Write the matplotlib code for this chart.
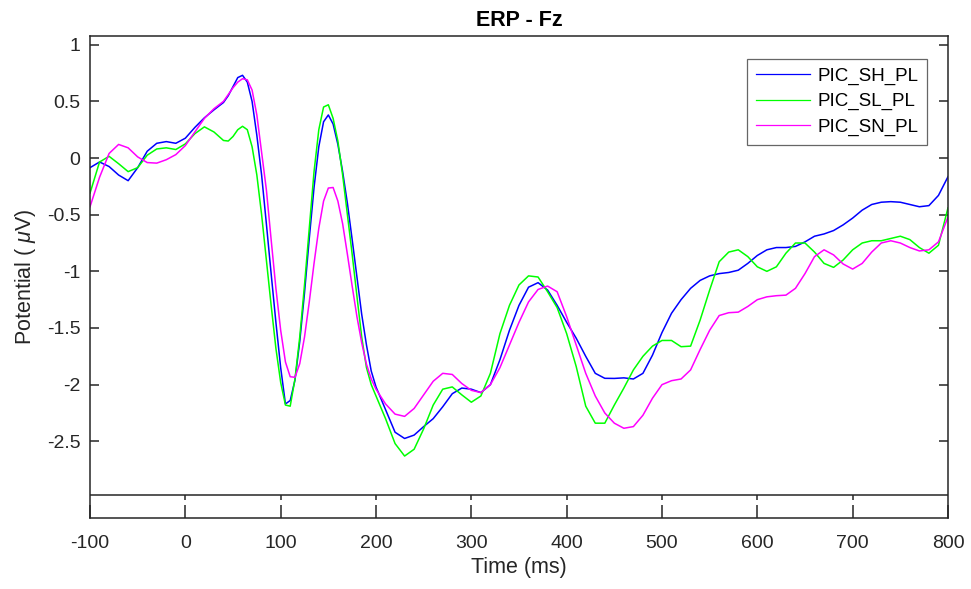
"""
ERP waveform at Fz for three conditions (MATLAB-style figure)
"""

import numpy as np
import matplotlib
matplotlib.use('Agg')
import matplotlib.pyplot as plt

# ============================================================
# Data (microvolts)
# ============================================================

time_ms = np.concatenate([np.arange(-100, 40, 10),
                          np.arange(40, 200, 5),
                          np.arange(200, 801, 10)])

pic_sh_pl = [
    -0.085, -0.035, -0.075, -0.15, -0.20, -0.085, 0.06, 0.13, 0.145, 0.13, 0.175, 0.27, 0.355, 0.425,
    0.49, 0.55, 0.63, 0.71, 0.73, 0.67, 0.50, 0.20,
    -0.15, -0.58, -1.02, -1.45, -1.85, -2.17, -2.14, -1.96,
    -1.62, -1.19, -0.71, -0.26, 0.10, 0.32, 0.38, 0.30,
    0.12, -0.12, -0.40, -0.72, -1.05, -1.38, -1.65, -1.88,
    -2.02, -2.22, -2.42, -2.475, -2.445, -2.37, -2.30, -2.195, -2.08, -2.03,
    -2.04, -2.07, -2.0, -1.78, -1.52, -1.30, -1.14, -1.10, -1.165, -1.30,
    -1.45, -1.59, -1.75, -1.90, -1.944, -1.945, -1.94, -1.95, -1.90, -1.74,
    -1.54, -1.37, -1.25, -1.15, -1.08, -1.04, -1.02, -1.01, -0.99, -0.93,
    -0.86, -0.81, -0.79, -0.79, -0.78, -0.74, -0.69, -0.67, -0.64, -0.59,
    -0.53, -0.46, -0.41, -0.39, -0.385, -0.39, -0.41, -0.43, -0.42, -0.33,
    -0.165,
]

pic_sl_pl = [
    -0.31, -0.035, 0.015, -0.05, -0.12, -0.085, 0.025, 0.08, 0.09, 0.075, 0.125, 0.215, 0.275, 0.23,
    0.155, 0.15, 0.19, 0.25, 0.28, 0.25, 0.10, -0.15,
    -0.50, -0.90, -1.30, -1.68, -1.98, -2.18, -2.19, -1.95,
    -1.58, -1.12, -0.62, -0.12, 0.25, 0.45, 0.47, 0.35,
    0.15, -0.15, -0.50, -0.85, -1.22, -1.58, -1.85, -2.0,
    -2.10, -2.30, -2.52, -2.63, -2.57, -2.39, -2.18, -2.04, -2.02, -2.09,
    -2.155, -2.10, -1.90, -1.55, -1.30, -1.12, -1.04, -1.05, -1.18, -1.32,
    -1.55, -1.84, -2.19, -2.34, -2.34, -2.18, -2.03, -1.87, -1.75, -1.66,
    -1.61, -1.61, -1.665, -1.66, -1.43, -1.165, -0.915, -0.83, -0.81, -0.87,
    -0.96, -1.00, -0.96, -0.84, -0.75, -0.75, -0.83, -0.93, -0.965, -0.90,
    -0.81, -0.75, -0.73, -0.73, -0.71, -0.69, -0.72, -0.79, -0.84, -0.77,
    -0.44,
]

pic_sn_pl = [
    -0.43, -0.17, 0.04, 0.12, 0.09, 0.01, -0.04, -0.045, -0.015, 0.03, 0.11, 0.23, 0.35, 0.435,
    0.50, 0.56, 0.62, 0.67, 0.70, 0.69, 0.60, 0.38,
    0.05, -0.28, -0.72, -1.15, -1.52, -1.80, -1.93, -1.935,
    -1.815, -1.58, -1.27, -0.93, -0.62, -0.38, -0.265, -0.26,
    -0.38, -0.58, -0.85, -1.13, -1.40, -1.63, -1.82, -1.95,
    -2.04, -2.17, -2.26, -2.28, -2.21, -2.09, -1.97, -1.90, -1.91, -1.99,
    -2.05, -2.07, -2.0, -1.85, -1.65, -1.45, -1.27, -1.16, -1.13, -1.18,
    -1.40, -1.65, -1.90, -2.10, -2.25, -2.34, -2.385, -2.37, -2.27, -2.12,
    -2.0, -1.965, -1.95, -1.87, -1.69, -1.52, -1.39, -1.365, -1.36, -1.31,
    -1.25, -1.225, -1.215, -1.21, -1.15, -1.02, -0.87, -0.81, -0.855, -0.935,
    -0.98, -0.93, -0.83, -0.75, -0.73, -0.75, -0.79, -0.82, -0.81, -0.74,
    -0.52,
]

labels = ['PIC_SH_PL', 'PIC_SL_PL', 'PIC_SN_PL']
colors = ['#0000ff', '#00ff00', '#ff00ff']

x_ticks = [-100, 0, 100, 200, 300, 400, 500, 600, 700, 800]
y_ticks = [1, 0.5, 0, -0.5, -1, -1.5, -2, -2.5]

# ============================================================
# Style
# ============================================================

plt.rcParams['font.family'] = ['Liberation Sans', 'DejaVu Sans']
plt.rcParams['mathtext.fontset'] = 'custom'
plt.rcParams['mathtext.it'] = 'Liberation Sans:italic'
plt.rcParams['mathtext.rm'] = 'Liberation Sans'
plt.rcParams['axes.unicode_minus'] = False

axis_col = '#262626'
y_base = -2.975   # horizontal base line drawn inside the box

# ============================================================
# Plot
# ============================================================

fig = plt.figure(figsize=(9.71, 5.89), dpi=100)
ax = fig.add_axes([0.0927, 0.1205, 0.8836, 0.8184])

for vals, lab, c in zip([pic_sh_pl, pic_sl_pl, pic_sn_pl], labels, colors):
    ax.plot(time_ms, vals, color=c, linewidth=1.1, label=lab)

ax.set_xlim(-100, 800)
ax.set_ylim(-3.177, 1.077)
ax.set_xticks(x_ticks)
ax.set_yticks(y_ticks)
ax.set_xticklabels([f'{v:g}' for v in x_ticks])
ax.set_yticklabels([f'{v:g}' for v in y_ticks])

# base line and its short downward ticks
ax.axhline(y_base, color=axis_col, linewidth=1.1, zorder=1)
ax.vlines(x_ticks[1:-1], y_base - 0.042, y_base, color=axis_col, linewidth=1.1)

for sp in ax.spines.values():
    sp.set_color(axis_col)
    sp.set_linewidth(1.1)

ax.tick_params(axis='both', direction='in', colors=axis_col, labelsize=14,
               width=1.1, top=False, right=True)
ax.tick_params(axis='y', length=6.5, pad=7)
ax.tick_params(axis='x', length=9.5, pad=12)

ax.set_title('ERP - Fz', fontsize=15.5, fontweight='bold', pad=7)
ax.set_xlabel('Time (ms)', fontsize=15.5, color=axis_col, labelpad=4)
ax.set_ylabel(r'Potential ( $\mu$V)', fontsize=15.5, color=axis_col, labelpad=6)

leg = ax.legend(loc='upper right', bbox_to_anchor=(0.9755, 0.9523),
                borderaxespad=0, fontsize=13.5, frameon=True, fancybox=False,
                handlelength=2.9, handletextpad=0.4, labelspacing=0.45,
                borderpad=0.45)
leg.get_frame().set_edgecolor('#404040')
leg.get_frame().set_linewidth(0.9)
for line in leg.get_lines():
    line.set_linewidth(0.9)

plt.savefig('out.png', dpi=100)
